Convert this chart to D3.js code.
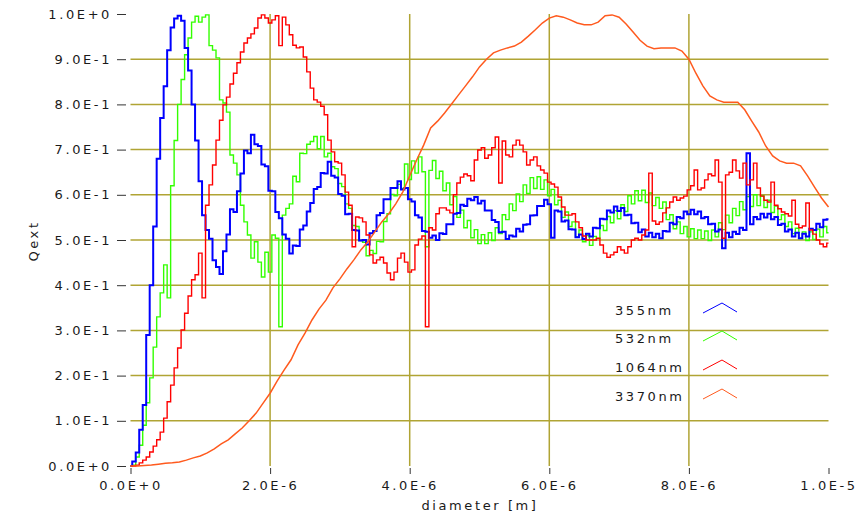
<!DOCTYPE html>
<html>
<head>
<meta charset="utf-8">
<script src="https://cdn.jsdelivr.net/npm/d3@7"></script>
<style>
  body { margin: 0; background: #fff; }
  text { font-family: "DejaVu Sans", Verdana, sans-serif; font-size: 13px; fill: #1a1a1a; letter-spacing: 2.6px; }
</style>
</head>
<body>
<svg id="chart" width="862" height="515"></svg>
<script>
// Sampling grids (diameter in metres)
const diameterFine = d3.range(201).map(i => i * 0.05e-6);
const diameterCoarse = d3.range(101).map(i => i * 0.1e-6);

// Extinction efficiency, normalised, one value per fine-grid diameter
const qext355 = [
  0, 0.01, 0.03, 0.08, 0.135, 0.29, 0.40, 0.53, 0.68, 0.77,
  0.84, 0.92, 0.97, 0.99, 0.996, 0.985, 0.925, 0.875, 0.80, 0.72,
  0.63, 0.555, 0.522, 0.503, 0.455, 0.44, 0.425, 0.475, 0.512, 0.568,
  0.562, 0.608, 0.647, 0.698, 0.692, 0.733, 0.712, 0.708, 0.667, 0.663,
  0.609, 0.608, 0.562, 0.548, 0.512, 0.503, 0.470, 0.488, 0.487, 0.523,
  0.532, 0.563, 0.582, 0.613, 0.617, 0.648, 0.647, 0.673, 0.642, 0.638,
  0.602, 0.598, 0.557, 0.558, 0.522, 0.521, 0.499, 0.500, 0.490, 0.515,
  0.520, 0.555, 0.560, 0.59, 0.59, 0.615, 0.615, 0.63, 0.612, 0.615,
  0.59, 0.585, 0.555, 0.55, 0.52, 0.518, 0.505, 0.51, 0.50, 0.515,
  0.513, 0.535, 0.535, 0.558, 0.56, 0.578, 0.575, 0.591, 0.588, 0.595,
  0.581, 0.587, 0.565, 0.565, 0.544, 0.54, 0.517, 0.518, 0.502, 0.51,
  0.508, 0.525, 0.519, 0.534, 0.535, 0.554, 0.555, 0.575, 0.575, 0.589,
  0.579, 0.505, 0.565, 0.563, 0.541, 0.543, 0.524, 0.523, 0.506, 0.512,
  0.502, 0.514, 0.508, 0.527, 0.526, 0.547, 0.546, 0.565, 0.561, 0.574,
  0.564, 0.571, 0.555, 0.556, 0.537, 0.538, 0.517, 0.523, 0.508, 0.516,
  0.506, 0.514, 0.504, 0.52, 0.519, 0.538, 0.535, 0.551, 0.548, 0.563,
  0.557, 0.567, 0.557, 0.563, 0.548, 0.551, 0.535, 0.536, 0.519, 0.523,
  0.482, 0.516, 0.506, 0.518, 0.513, 0.527, 0.522, 0.692, 0.535, 0.551,
  0.546, 0.558, 0.55, 0.558, 0.546, 0.551, 0.533, 0.536, 0.519, 0.523,
  0.508, 0.516, 0.504, 0.514, 0.508, 0.525, 0.522, 0.536, 0.528, 0.545,
  0.546
];

const qext532 = [
  0, 0.002, 0.02, 0.046, 0.09, 0.14, 0.195, 0.263, 0.33, 0.383,
  0.445, 0.372, 0.62, 0.72, 0.80, 0.855, 0.91, 0.947, 0.982, 0.995,
  0.982, 0.993, 0.998, 0.93, 0.92, 0.903, 0.81, 0.803, 0.783, 0.688,
  0.67, 0.644, 0.577, 0.54, 0.511, 0.46, 0.496, 0.451, 0.418, 0.473,
  0.429, 0.511, 0.504, 0.308, 0.555, 0.57, 0.58, 0.641, 0.629, 0.692,
  0.691, 0.712, 0.718, 0.729, 0.702, 0.729, 0.684, 0.692, 0.662, 0.658,
  0.625, 0.618, 0.58, 0.57, 0.532, 0.53, 0.499, 0.495, 0.465, 0.477,
  0.47, 0.497, 0.496, 0.541, 0.558, 0.601, 0.598, 0.623, 0.614, 0.668,
  0.634, 0.675, 0.648, 0.684, 0.651, 0.485, 0.654, 0.676, 0.636, 0.652,
  0.609, 0.626, 0.578, 0.596, 0.55, 0.566, 0.527, 0.543, 0.505, 0.523,
  0.492, 0.512, 0.492, 0.516, 0.499, 0.527, 0.514, 0.556, 0.545, 0.58,
  0.565, 0.602, 0.585, 0.622, 0.603, 0.638, 0.614, 0.64, 0.612, 0.633,
  0.598, 0.612, 0.578, 0.588, 0.55, 0.562, 0.53, 0.54, 0.507, 0.522,
  0.496, 0.51, 0.488, 0.508, 0.503, 0.532, 0.521, 0.552, 0.538, 0.565,
  0.547, 0.578, 0.563, 0.598, 0.58, 0.609, 0.587, 0.61, 0.583, 0.604,
  0.576, 0.594, 0.57, 0.584, 0.545, 0.556, 0.525, 0.54, 0.514, 0.53,
  0.507, 0.525, 0.503, 0.522, 0.503, 0.52, 0.499, 0.522, 0.507, 0.538,
  0.523, 0.555, 0.538, 0.57, 0.554, 0.585, 0.567, 0.596, 0.574, 0.6,
  0.576, 0.598, 0.572, 0.588, 0.561, 0.575, 0.545, 0.556, 0.53, 0.54,
  0.514, 0.526, 0.503, 0.518, 0.499, 0.518, 0.501, 0.524, 0.507, 0.53,
  0.516
];

const qext1064 = [
  0, 0, 0.002, 0.007, 0.013, 0.02, 0.031, 0.044, 0.058, 0.075,
  0.106, 0.142, 0.179, 0.217, 0.261, 0.301, 0.338, 0.376, 0.412, 0.423,
  0.471, 0.372, 0.577, 0.622, 0.666, 0.721, 0.765, 0.799, 0.816, 0.845,
  0.869, 0.892, 0.916, 0.936, 0.947, 0.956, 0.969, 0.991, 0.998, 0.991,
  0.98, 0.987, 0.996, 0.93, 0.993, 0.976, 0.954, 0.931, 0.925, 0.927,
  0.905, 0.872, 0.836, 0.81, 0.805, 0.796, 0.777, 0.721, 0.695, 0.673,
  0.67, 0.644, 0.606, 0.577, 0.485, 0.551, 0.549, 0.54, 0.511, 0.467,
  0.449, 0.456, 0.462, 0.449, 0.427, 0.412, 0.429, 0.46, 0.471, 0.451,
  0.429, 0.434, 0.489, 0.502, 0.509, 0.308, 0.527, 0.522, 0.558, 0.571,
  0.571, 0.566, 0.56, 0.6, 0.626, 0.639, 0.646, 0.642, 0.631, 0.677,
  0.699, 0.704, 0.681, 0.688, 0.704, 0.728, 0.626, 0.719, 0.688, 0.684,
  0.71, 0.721, 0.71, 0.695, 0.666, 0.677, 0.684, 0.664, 0.655, 0.648,
  0.628, 0.624, 0.617, 0.595, 0.573, 0.555, 0.555, 0.558, 0.54, 0.527,
  0.509, 0.5, 0.5, 0.5, 0.504, 0.489, 0.471, 0.462, 0.467, 0.473,
  0.485, 0.478, 0.471, 0.485, 0.5, 0.504, 0.5, 0.511, 0.522, 0.648,
  0.542, 0.535, 0.54, 0.56, 0.571, 0.584, 0.595, 0.588, 0.593, 0.597,
  0.611, 0.62, 0.655, 0.611, 0.615, 0.633, 0.646, 0.642, 0.677, 0.628,
  0.504, 0.644, 0.65, 0.677, 0.653, 0.637, 0.67, 0.622, 0.633, 0.67,
  0.615, 0.597, 0.588, 0.584, 0.628, 0.577, 0.569, 0.562, 0.558, 0.553,
  0.588, 0.535, 0.527, 0.531, 0.582, 0.522, 0.513, 0.5, 0.491, 0.485,
  0.493
];

// One value per coarse-grid diameter
const qext3370 = [
  0, 0, 0.001, 0.002, 0.004, 0.006, 0.007, 0.009, 0.013, 0.018,
  0.022, 0.029, 0.038, 0.049, 0.058, 0.071, 0.084, 0.1, 0.117, 0.139,
  0.161, 0.188, 0.212, 0.235, 0.268, 0.294, 0.323, 0.347, 0.367, 0.394,
  0.414, 0.436, 0.456, 0.478, 0.496, 0.518, 0.54, 0.558, 0.58, 0.606,
  0.642, 0.677, 0.71, 0.748, 0.763, 0.781, 0.801, 0.821, 0.841, 0.861,
  0.883, 0.9, 0.914, 0.92, 0.925, 0.929, 0.938, 0.951, 0.965, 0.98,
  0.991, 0.996, 0.993, 0.987, 0.98, 0.976, 0.976, 0.982, 0.996, 0.998,
  0.993, 0.978, 0.96, 0.942, 0.929, 0.923, 0.925, 0.925, 0.925, 0.918,
  0.9, 0.869, 0.841, 0.819, 0.81, 0.805, 0.805, 0.805, 0.788, 0.763,
  0.739, 0.708, 0.686, 0.675, 0.67, 0.67, 0.664, 0.642, 0.617, 0.593,
  0.573
];

const seriesNames = ["355nm", "532nm", "1064nm", "3370nm"];
const seriesColors = ["#0000ff", "#33ff00", "#ff0000", "#ff5a1e"];

const yTickValues = [0, 0.1, 0.2, 0.3, 0.4, 0.5, 0.6, 0.7, 0.8, 0.9, 1.0];
const yTickLabels = ["0.0E+0", "1.0E-1", "2.0E-1", "3.0E-1", "4.0E-1", "5.0E-1",
                     "6.0E-1", "7.0E-1", "8.0E-1", "9.0E-1", "1.0E+0"];
const xTickValues = [0, 2e-6, 4e-6, 6e-6, 8e-6, 1e-5];
const xTickLabels = ["0.0E+0", "2.0E-6", "4.0E-6", "6.0E-6", "8.0E-6", "1.0E-5"];

const svg = d3.select("#chart");
const x = d3.scaleLinear().domain([0, 1e-5]).range([130.5, 828.5]);
const y = d3.scaleLinear().domain([0, 1]).range([466, 14]);
const gridColor = "#b0a434";

// Grid lines (interior ticks only)
const grid = svg.append("g");
grid.selectAll("line.h")
  .data(yTickValues.filter(v => v > 0 && v < 1))
  .join("line")
  .attr("x1", x(0)).attr("x2", x(1e-5))
  .attr("y1", d => y(d)).attr("y2", d => y(d))
  .attr("stroke", gridColor).attr("stroke-width", 1.5);
grid.selectAll("line.v")
  .data(xTickValues.filter(v => v > 0 && v < 1e-5))
  .join("line")
  .attr("x1", d => x(d)).attr("x2", d => x(d))
  .attr("y1", y(1)).attr("y2", y(0))
  .attr("stroke", gridColor).attr("stroke-width", 1.5);

// Axes
const yAxis = d3.axisLeft(y)
  .tickValues(yTickValues)
  .tickFormat((d, i) => yTickLabels[i])
  .tickSize(9).tickPadding(5);
const gy = svg.append("g").attr("transform", "translate(126,0)").call(yAxis);
gy.select(".domain").remove();
gy.selectAll(".tick line").attr("stroke", "#333");
gy.selectAll(".tick text").attr("font-family", null).attr("font-size", null).style("fill", "#1a1a1a");

const xAxis = d3.axisBottom(x)
  .tickValues(xTickValues)
  .tickFormat((d, i) => xTickLabels[i])
  .tickSize(6).tickPadding(7);
const gx = svg.append("g").attr("transform", "translate(0,468)").call(xAxis);
gx.select(".domain").remove();
gx.selectAll(".tick line").attr("stroke", "#333");
gx.selectAll(".tick text").attr("font-family", null).attr("font-size", null).style("fill", "#1a1a1a");

// Axis titles
svg.append("text")
  .attr("transform", "translate(38,241) rotate(-90)")
  .attr("text-anchor", "middle")
  .text("Qext");
svg.append("text")
  .attr("x", 480).attr("y", 510)
  .attr("text-anchor", "middle")
  .text("diameter [m]");

// Curves
const stepLine = d3.line()
  .x(d => x(d[0])).y(d => y(d[1]))
  .curve(d3.curveStep);
const smoothLine = d3.line()
  .x(d => x(d[0])).y(d => y(d[1]));

const plotted = [
  { values: qext532, grid: diameterFine, color: seriesColors[1], gen: stepLine, w: 1.4 },
  { values: qext355, grid: diameterFine, color: seriesColors[0], gen: stepLine, w: 2.0 },
  { values: qext1064, grid: diameterFine, color: seriesColors[2], gen: stepLine, w: 1.4 },
  { values: qext3370, grid: diameterCoarse, color: seriesColors[3], gen: smoothLine, w: 1.5 }
];
plotted.forEach(s => {
  svg.append("path")
    .datum(s.values.map((v, i) => [s.grid[i], v]))
    .attr("fill", "none")
    .attr("stroke", s.color)
    .attr("stroke-width", s.w)
    .attr("d", s.gen);
});

// Legend
const legendBase = [315, 343, 372, 401];
const legend = svg.append("g");
seriesNames.forEach((name, i) => {
  const b = legendBase[i];
  legend.append("text").attr("x", 615).attr("y", b).text(name);
  legend.append("path")
    .attr("d", d3.line()([[703, b - 2], [722, b - 12], [737, b - 3]]))
    .attr("fill", "none")
    .attr("stroke", seriesColors[i])
    .attr("stroke-width", 1);
});
</script>
</body>
</html>
